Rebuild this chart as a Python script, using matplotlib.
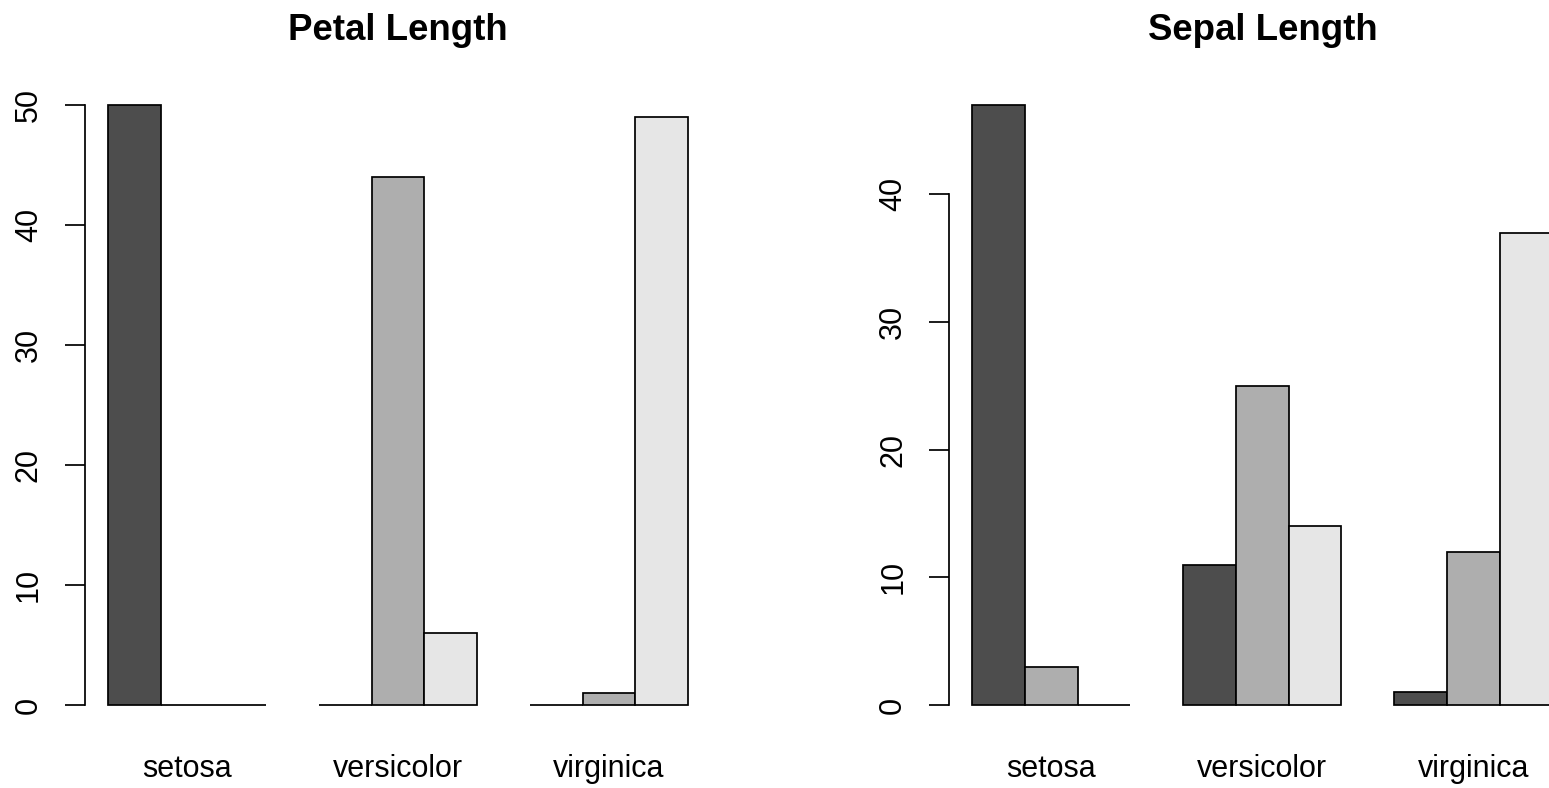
import matplotlib
matplotlib.use("Agg")
import matplotlib.pyplot as plt
import numpy as np

plt.rcParams['font.family'] = ['Liberation Sans', 'DejaVu Sans']

species = ["setosa", "versicolor", "virginica"]
bin_colors = ["#4D4D4D", "#AEAEAE", "#E6E6E6"]

# counts per species for the three length bins (short / medium / long)
petal_counts = [
    [50, 0, 0],
    [0, 44, 6],
    [0, 1, 49],
]
sepal_counts = [
    [47, 3, 0],
    [11, 25, 14],
    [1, 12, 37],
]

W, H = 1549, 788
DPI = 100


def draw_barplot(ax, counts, title, yticks):
    counts = np.array(counts)
    for j in range(counts.shape[1]):
        lefts = [1 + 4 * i + j for i in range(counts.shape[0])]
        ax.bar(lefts, counts[:, j], width=1, align='edge',
               color=bin_colors[j], edgecolor='black', linewidth=1.25)
    ymax = counts.max()
    ax.set_xlim(1 - 0.44, 12 + 0.44)
    ax.set_ylim(-0.04 * ymax, ymax * 1.04)
    for s in ['top', 'right', 'bottom']:
        ax.spines[s].set_visible(False)
    ax.spines['left'].set_bounds(yticks[0], yticks[-1])
    ax.spines['left'].set_linewidth(1.25)
    ax.set_yticks(yticks)
    ax.set_yticklabels([str(t) for t in yticks], rotation=90, va='center')
    ax.tick_params(axis='y', length=14.4, width=1.25, pad=15, labelsize=22)
    centres = [2.5 + 4 * i for i in range(len(species))]
    ax.set_xticks(centres)
    ax.set_xticklabels(species)
    ax.tick_params(axis='x', length=0, pad=18, labelsize=22)
    ax.set_title(title, fontsize=26.4, fontweight='bold', pad=29.5)


fig = plt.figure(figsize=(W / DPI, H / DPI), dpi=DPI)
bottom = (H - 729) / H
height = 648 / H
unit = 52.75
width_px = unit * 11.88

ax1 = fig.add_axes([84.7 / W, bottom, width_px / W, height])
draw_barplot(ax1, petal_counts, "Petal Length", [0, 10, 20, 30, 40, 50])

ax2 = fig.add_axes([949 / W, bottom, width_px / W, height])
draw_barplot(ax2, sepal_counts, "Sepal Length", [0, 10, 20, 30, 40])

fig.savefig("out.png", dpi=DPI)
